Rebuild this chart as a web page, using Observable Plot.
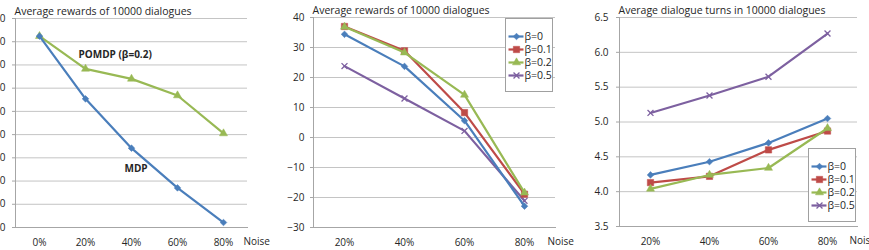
<!DOCTYPE html>
<html><head><meta charset="utf-8">
<script src="https://cdn.jsdelivr.net/npm/d3@7"></script>
<script src="https://cdn.jsdelivr.net/npm/@observablehq/plot@0.6"></script>
<style>
html,body{margin:0;padding:0;background:#fff;overflow:hidden;}
#chart{position:relative;width:869px;height:250px;overflow:hidden;font-family:"Open Sans",Lato,sans-serif;}
.panel{position:absolute;top:0;}
.legend{position:absolute;border:1px solid #a0a0a0;background:#fff;box-sizing:border-box;}
</style></head><body><div id="chart"></div>
<script>
// ---------- data ----------
const noiseLevels1 = ["0%","20%","40%","60%","80%"];
const pomdpRewards = [64.8, 36.6, 28.0, 13.7, -19.0];
const mdpRewards   = [64.8, 10.8, -31.7, -65.9, -95.7];
const rewardTicks1 = [80,60,40,20,0,-20,-40,-60,-80,-100];

const noiseLevels = ["20%","40%","60%","80%"];
const betaLabels = ["β=0","β=0.1","β=0.2","β=0.5"];
const rewardsB0  = [34.4, 23.7, 5.6, -22.9];
const rewardsB01 = [37.0, 28.9, 8.3, -18.9];
const rewardsB02 = [36.9, 28.3, 14.2, -18.4];
const rewardsB05 = [23.8, 13.0, 2.2, -21.1];
const rewardTicks2 = [40,30,20,10,0,-10,-20,-30];

const turnsB0  = [4.24, 4.43, 4.70, 5.05];
const turnsB01 = [4.13, 4.22, 4.60, 4.87];
const turnsB02 = [4.04, 4.24, 4.34, 4.91];
const turnsB05 = [5.13, 5.38, 5.65, 6.27];
const turnTicks = [6.5,6.0,5.5,5.0,4.5,4.0,3.5];

const titles = ["Average rewards of 10000 dialogues","Average rewards of 10000 dialogues","Average dialogue turns in 10000 dialogues"];
const annotations1 = [{label:"POMDP (β=0.2)", noise:"20%", value:48.4}, {label:"MDP", noise:"40%", value:-49.8}];

const seriesColors = ["#4A7EBB","#BE4B48","#98B954","#7D60A0"];
const seriesSymbols = ["diamond2","square","triangle","times"];
const symbolR = {diamond2:3.0, square:3.6, triangle:3.0, times:2.8};

const FONT = "'Open Sans', Lato, sans-serif";
const textColor = "#262626";
const gridColor = "#c4c4c4";
const axisColor = "#a6a6a6";
const chart = document.getElementById("chart");

function seriesMarks(s, xDomain) {
  const rows = s.values.map((v,i)=>({noise:xDomain[i], value:v}));
  const isStroke = s.symbol === "times";
  return [
    Plot.line(rows, {x:"noise", y:"value", stroke:s.color, strokeWidth:2.2}),
    Plot.dot(rows, {x:"noise", y:"value", symbol:s.symbol, r:symbolR[s.symbol],
      fill: isStroke ? "none" : s.color, stroke: s.color, strokeWidth: isStroke ? 1.3 : 0.5})
  ];
}

function panel(cfg) {
  const marks = [
    Plot.gridY(cfg.yTicks, {stroke:gridColor, strokeOpacity:1}),
    Plot.axisY(cfg.yTicks, {tickSize:3, tickPadding:cfg.tickPadding, stroke:axisColor, fill:textColor, tickFormat:cfg.yFormat, fontSize:10}),
    Plot.axisX({tickSize:0, tickPadding:11, fill:textColor, fontSize:10}),
    Plot.frame({anchor:"left", stroke:axisColor}),
    Plot.frame({anchor:"bottom", stroke:axisColor}),
    ...cfg.series.flatMap(s => seriesMarks(s, cfg.xDomain)),
    Plot.text([cfg.title], {frameAnchor:"top-left", lineAnchor:"middle", textAnchor:"start", dy:-7, dx:-1, fill:textColor, fontSize:10.5}),
    Plot.text(["Noise"], {frameAnchor:"bottom-right", lineAnchor:"middle", textAnchor:"start", dx:cfg.noiseDx, dy:14, fill:textColor, fontSize:10})
  ];
  if (cfg.annotations) {
    marks.push(Plot.text(cfg.annotations, {x:"noise", y:"value", text:"label", textAnchor:"start", dx:-7, fontWeight:"bold", fill:textColor, fontSize:10}));
  }
  const svg = Plot.plot({
    width: cfg.width, height: 250,
    marginLeft: cfg.mL, marginRight: cfg.mR, marginTop: cfg.mT, marginBottom: cfg.mB,
    style: {background:"transparent", fontFamily:FONT, fontSize:"10px", overflow:"hidden"},
    x: {type:"point", domain: cfg.xDomain, padding:0.5, label:null},
    y: {domain: cfg.yDomain, label:null},
    marks
  });
  const div = document.createElement("div");
  div.className = "panel";
  div.style.left = cfg.left + "px";
  div.style.width = cfg.width + "px";
  div.appendChild(svg);
  chart.appendChild(div);
}

function legend(left, top) {
  const w = 48, h = 74;
  const marks = [];
  betaLabels.forEach((b,i) => {
    const sym = seriesSymbols[i];
    const isStroke = sym === "times";
    marks.push(Plot.ruleY([b], {y:d=>d, x1:()=>2.5, x2:()=>17.5, stroke:seriesColors[i], strokeWidth:2.2}));
    marks.push(Plot.dot([b], {y:d=>d, x:()=>10, symbol:sym, r:symbolR[sym], fill:isStroke?"none":seriesColors[i], stroke:seriesColors[i], strokeWidth:isStroke?1.3:0.5}));
    marks.push(Plot.text([b], {y:d=>d, x:()=>18, text:d=>d, textAnchor:"start", fill:textColor, fontSize:10.5}));
  });
  const svg = Plot.plot({
    width: w-2, height: h-2, margin:0,
    style:{background:"transparent", fontFamily:FONT},
    x:{type:"identity", axis:null},
    y:{type:"point", domain:betaLabels, range:[10, 63], axis:null},
    marks
  });
  const div = document.createElement("div");
  div.className = "legend";
  div.style.left = left + "px"; div.style.top = top + "px";
  div.style.width = w + "px"; div.style.height = h + "px";
  div.appendChild(svg);
  chart.appendChild(div);
}

// Panel 1
panel({left:-35, width:310, mL:50, mR:28, mT:18, mB:23,
  xDomain:noiseLevels1, yDomain:[-100,80], yTicks:rewardTicks1, tickPadding:7,
  title:titles[0], noiseDx:-4, annotations:annotations1,
  series:[
    {values:pomdpRewards, color:seriesColors[2], symbol:seriesSymbols[2]},
    {values:mdpRewards, color:seriesColors[0], symbol:seriesSymbols[0]}
  ]});

// Panel 2
panel({left:280, width:300, mL:33, mR:25, mT:17, mB:23,
  xDomain:noiseLevels, yDomain:[-30,40], yTicks:rewardTicks2, tickPadding:6,
  title:titles[1], noiseDx:-8,
  series:[
    {values:rewardsB05, color:seriesColors[3], symbol:seriesSymbols[3]},
    {values:rewardsB0, color:seriesColors[0], symbol:seriesSymbols[0]},
    {values:rewardsB01, color:seriesColors[1], symbol:seriesSymbols[1]},
    {values:rewardsB02, color:seriesColors[2], symbol:seriesSymbols[2]}
  ]});
legend(505, 18);

// Panel 3
panel({left:580, width:289, mL:39, mR:12, mT:17, mB:24,
  xDomain:noiseLevels, yDomain:[3.5,6.5], yTicks:turnTicks, yFormat:d3.format(".1f"), tickPadding:8,
  title:titles[2], noiseDx:-8,
  series:[
    {values:turnsB05, color:seriesColors[3], symbol:seriesSymbols[3]},
    {values:turnsB0, color:seriesColors[0], symbol:seriesSymbols[0]},
    {values:turnsB01, color:seriesColors[1], symbol:seriesSymbols[1]},
    {values:turnsB02, color:seriesColors[2], symbol:seriesSymbols[2]}
  ]});
legend(808, 148);
</script></body></html>
